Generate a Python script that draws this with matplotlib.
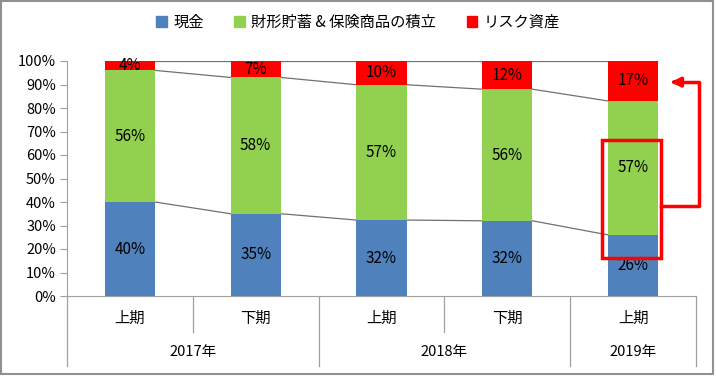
import matplotlib
matplotlib.use("Agg")
import matplotlib.pyplot as plt
from matplotlib.patches import Patch, Rectangle
import numpy as np

plt.rcParams['font.family'] = ['Noto Sans CJK JP', 'DejaVu Sans']

# data
periods = ['上期', '下期', '上期', '下期', '上期']
years = ['2017年', '2018年', '2019年']
year_spans = [(0, 2), (2, 4), (4, 5)]
series_names = ['現金', '財形貯蓄 & 保険商品の積立', 'リスク資産']
cash = [40, 35, 32, 32, 26]
savings = [56, 58, 57, 56, 57]
risk = [4, 7, 10, 12, 17]
colors = ['#4F81BD', '#92D050', '#FF0000']

fig = plt.figure(figsize=(7.16, 3.76), dpi=100)
ax = fig.add_axes([67 / 716, 1 - 296 / 376, 629 / 716, 235 / 376])

x = np.arange(len(periods))
w = 0.4
data = np.array([cash, savings, risk], dtype=float)
shares = data / data.sum(axis=0) * 100  # 100% stacked, like the original
bottom = np.zeros(len(x))
tops = []
for vals, labels, col in zip(shares, data, colors):
    ax.bar(x, vals, w, bottom=bottom, color=col, zorder=2)
    for xi, b, v, lab in zip(x, bottom, vals, labels):
        ax.text(xi, b + v / 2, f'{int(lab)}%', ha='center', va='center', fontsize=11, zorder=4)
    bottom = bottom + vals
    tops.append(bottom.copy())

# series lines between bars
for t in tops:
    for i in range(len(x) - 1):
        ax.plot([x[i] + w / 2, x[i + 1] - w / 2], [t[i], t[i + 1]], color='#707070', lw=0.9, zorder=1)

ax.set_xlim(-0.5, len(x) - 0.5)
ax.set_ylim(0, 100)
ax.set_yticks(np.arange(0, 101, 10))
ax.set_yticklabels([f'{v}%' for v in range(0, 101, 10)], fontsize=10.5)
ax.set_xticks([])
for s in ['top', 'right']:
    ax.spines[s].set_visible(False)
ax.spines['left'].set_color('#A0A0A0')
ax.spines['bottom'].set_color('#A0A0A0')
ax.tick_params(axis='y', length=5, color='#A0A0A0', pad=3)

# two-level category axis
trans = ax.get_xaxis_transform()
for xi, p in zip(x, periods):
    ax.text(xi, -0.094, p, transform=trans, ha='center', va='center', fontsize=11)
for (a, b), yr in zip(year_spans, years):
    ax.text((a + b - 1) / 2, -0.238, yr, transform=trans, ha='center', va='center', fontsize=10.5)
group_edges = {-0.5} | {b - 0.5 for a, b in year_spans}
for e in np.arange(-0.5, len(x), 1.0):
    bot = -0.298 if e in group_edges else -0.153
    ax.plot([e, e], [0, bot], transform=trans, color='#A0A0A0', lw=0.9, clip_on=False)

# red highlight box and arrow
ax.add_patch(Rectangle((3.753, 16.2), 0.469, 50.2, fill=False, ec='red', lw=2.5, zorder=5, clip_on=False))
ax.plot([4.222, 4.524, 4.524, 4.33], [38.3, 38.3, 91, 91], color='red', lw=2.5, zorder=5, clip_on=False)
ax.annotate('', xy=(4.277, 91), xytext=(4.36, 91),
            arrowprops=dict(arrowstyle='-|>', color='red', lw=2.5, mutation_scale=14),
            annotation_clip=False, zorder=5)

handles = [Patch(color=c) for c in colors]
fig.legend(handles, series_names, loc='center', bbox_to_anchor=(0.5, 1 - 22 / 376), ncol=3,
           frameon=False, fontsize=11, handlelength=0.7, handleheight=0.7,
           handletextpad=0.4, columnspacing=2.0)

# outer frame
fig.patches.append(Rectangle((0.002, 0.004), 0.994, 0.993, transform=fig.transFigure,
                             fill=False, ec='#909090', lw=1.5))

fig.savefig('out.png', dpi=100)
